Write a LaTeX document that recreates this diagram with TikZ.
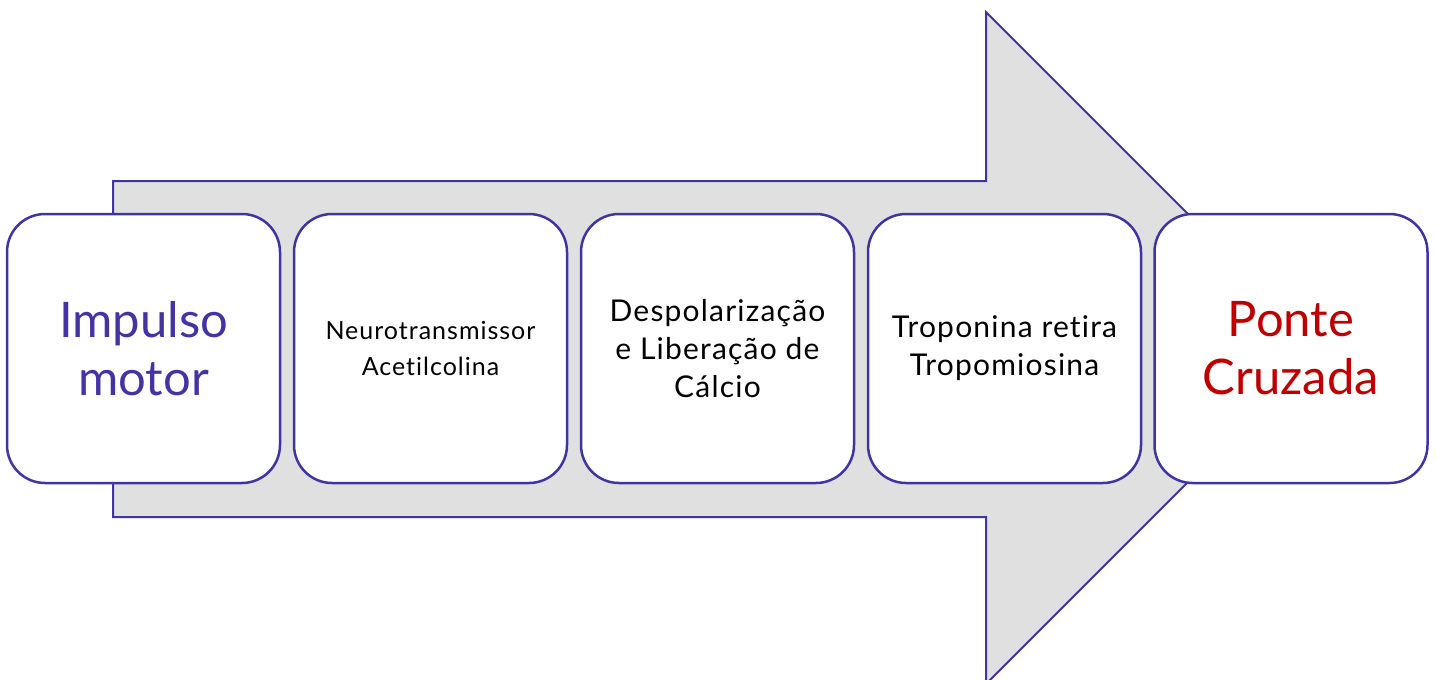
\documentclass[tikz,border=0pt]{standalone}
\usepackage{fontspec}
\setmainfont[Ligatures=NoCommon]{Lato}
\newfontfamily\spacedfont[LetterSpace=4,Ligatures=NoCommon]{Lato}
\definecolor{edgeblue}{HTML}{4034A5}
\definecolor{arrowgray}{HTML}{E0E0E0}
\definecolor{titleblue}{HTML}{4433A5}
\definecolor{titlered}{HTML}{C00000}
\begin{document}
\begin{tikzpicture}[x=1pt,y=-1pt,
  stepbox/.style={draw=edgeblue, line width=2.5pt, fill=white, rounded corners=38pt,
    minimum width=273pt, minimum height=269pt, align=center, inner sep=0pt},
  bigtxt/.style={font=\fontsize{49}{58}\selectfont},
  smalltxt/.style={font=\spacedfont\fontsize{25}{36}\selectfont, text=black},
  midtxt/.style={font=\spacedfont\fontsize{30}{38}\selectfont, text=black}]
\useasboundingbox (0,0) rectangle (1436,680);
\fill[white] (0,0) rectangle (1436,680);
\draw[edgeblue, line width=2pt, fill=arrowgray, line join=miter]
  (113,181) -- (986,181) -- (986,12) -- (1322,348) -- (986,684) -- (986,517) -- (113,517) -- cycle;
\node[stepbox, bigtxt, text=titleblue] (b1) at (143.5,348.5) {Impulso\\motor};
\node[stepbox, smalltxt] (b2) at (430.5,348.5) {Neurotransmissor\\Acetilcolina};
\node[stepbox, midtxt] (b3) at (717.5,348.5) {Despolarização\\e Liberação de\\Cálcio};
\node[stepbox, midtxt] (b4) at (1004.5,348.5) {Troponina retira\\Tropomiosina};
\node[stepbox, bigtxt, text=titlered] (b5) at (1291,348.5) {Ponte\\Cruzada};
\end{tikzpicture}
\end{document}
